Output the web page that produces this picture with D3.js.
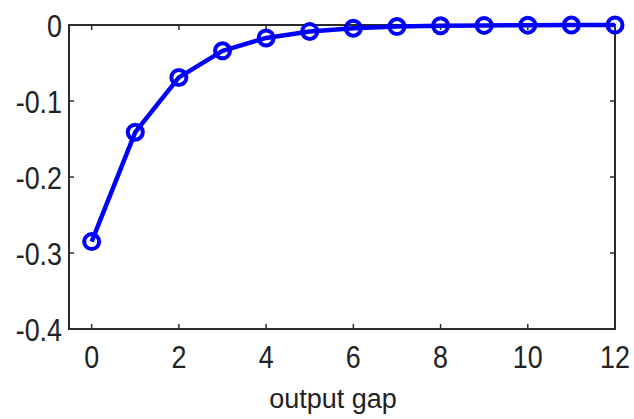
<!DOCTYPE html>
<html lang="en">
<head>
<meta charset="UTF-8">
<title>output gap</title>
<script src="https://d3js.org/d3.v7.min.js"></script>
<style>
  body { margin: 0; background: #fff; }
  text { font-family: Arial, "Liberation Sans", sans-serif; fill: #222; }
</style>
</head>
<body>
<svg id="chart"></svg>
<script>
    // horizon (periods) and the response of the output gap
    var periods = [0, 1, 2, 3, 4, 5, 6, 7, 8, 9, 10, 11, 12];
    var response = [-0.285, -0.141, -0.069, -0.034, -0.017, -0.0085, -0.0042,
                    -0.002, -0.001, -0.0005, -0.0002, -0.0001, 0];
    var xTicks = [0, 2, 4, 6, 8, 10, 12];
    var yTicks = [0, -0.1, -0.2, -0.3, -0.4];
    var xLabel = "output gap";

    var width = 634, height = 419;
    var svg = d3.select("#chart").attr("width", width).attr("height", height);

    // plot box in pixels (note: "top" is taken by window.top)
    var boxL = 69, boxR = 615, boxT = 25, boxB = 329;

    var x = d3.scaleLinear().domain([-0.52, 12]).range([boxL, boxR]);
    var y = d3.scaleLinear().domain([-0.4, 0]).range([boxB, boxT]);

    var frameColor = "#2b2b2b";
    var sx = 0.84; // tick labels are a bit narrow in the reference

    // plain hyphen for the minus, like the original figure
    var fmtY = function (t) {
        return t === 0 ? "0" : d3.format(".1f")(t).replace("\u2212", "-");
    };

    // ticks on all four sides, pointing inward (matlab style box)
    var g = svg.append("g");
    xTicks.forEach(function (t) {
        g.append("line").attr("x1", x(t)).attr("x2", x(t))
            .attr("y1", boxB).attr("y2", boxB - 5)
            .attr("stroke", frameColor).attr("stroke-width", 1.5);
        g.append("line").attr("x1", x(t)).attr("x2", x(t))
            .attr("y1", boxT).attr("y2", boxT + 5)
            .attr("stroke", frameColor).attr("stroke-width", 1.5);
        g.append("text")
            .attr("transform", "translate(" + x(t) + "," + (boxB + 39) + ") scale(" + sx + ",1)")
            .attr("text-anchor", "middle")
            .style("font-size", "32px")
            .text(t);
    });
    yTicks.forEach(function (t) {
        g.append("line").attr("x1", boxL).attr("x2", boxL + 5)
            .attr("y1", y(t)).attr("y2", y(t))
            .attr("stroke", frameColor).attr("stroke-width", 1.5);
        g.append("line").attr("x1", boxR).attr("x2", boxR - 5)
            .attr("y1", y(t)).attr("y2", y(t))
            .attr("stroke", frameColor).attr("stroke-width", 1.5);
        g.append("text")
            .attr("transform", "translate(" + (boxL - 7) + "," + y(t) + ") scale(" + sx + ",1)")
            .attr("text-anchor", "end")
            .attr("dy", "0.36em")
            .style("font-size", "32px")
            .text(fmtY(t));
    });

    // box
    svg.append("rect")
        .attr("x", boxL).attr("y", boxT)
        .attr("width", boxR - boxL).attr("height", boxB - boxT)
        .attr("fill", "none")
        .attr("stroke", frameColor)
        .attr("stroke-width", 2);

    var data = periods.map(function (p, i) { return {p: p, v: response[i]}; });

    var line = d3.line()
        .x(function (d) { return x(d.p); })
        .y(function (d) { return y(d.v); });

    svg.append("path")
        .datum(data)
        .attr("d", line)
        .attr("fill", "none")
        .attr("stroke", "#0000ff")
        .attr("stroke-width", 4.5)
        .attr("stroke-linejoin", "round");

    svg.selectAll(".marker")
        .data(data)
        .enter().append("circle")
        .attr("class", "marker")
        .attr("cx", function (d) { return x(d.p); })
        .attr("cy", function (d) { return y(d.v); })
        .attr("r", 7.5)
        .attr("fill", "none")
        .attr("stroke", "#0000ff")
        .attr("stroke-width", 4);

    svg.append("text")
        .attr("x", 333)
        .attr("y", 408)
        .attr("text-anchor", "middle")
        .style("font-size", "27px")
        .text(xLabel);
</script>
</body>
</html>
